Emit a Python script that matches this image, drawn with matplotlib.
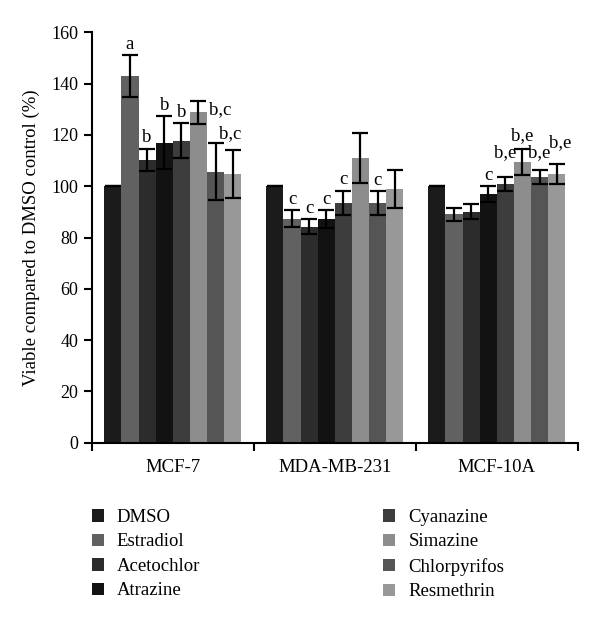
import numpy as np
import matplotlib
matplotlib.use("Agg")
import matplotlib.pyplot as plt

plt.rcParams.update({
    "font.family": "Liberation Serif",
    "font.size": 13.5,
    "axes.linewidth": 1.5,
    "xtick.major.width": 1.5,
    "ytick.major.width": 1.5,
    "xtick.labelsize": 13.5,
    "ytick.labelsize": 13,
})

# cell lines and treatments
cell_lines = ["MCF-7", "MDA-MB-231", "MCF-10A"]
treatments = ["DMSO", "Estradiol", "Acetochlor", "Atrazine",
              "Cyanazine", "Simazine", "Chlorpyrifos", "Resmethrin"]

# mean viability (%) per treatment, in cell line order
dmso         = [100.0, 100.0, 100.0]
estradiol    = [142.8, 87.3, 89.0]
acetochlor   = [110.4, 84.2, 90.1]
atrazine     = [117.0, 87.2, 96.9]
cyanazine    = [117.8, 93.6, 100.8]
simazine     = [128.8, 111.0, 109.6]
chlorpyrifos = [105.7, 93.4, 103.6]
resmethrin   = [104.8, 98.9, 104.8]

# error bars
dmso_err         = [0.0, 0.0, 0.0]
estradiol_err    = [8.2, 3.3, 2.6]
acetochlor_err   = [4.3, 3.0, 3.0]
atrazine_err     = [10.4, 3.4, 3.2]
cyanazine_err    = [6.7, 4.7, 2.8]
simazine_err     = [4.4, 9.7, 5.1]
chlorpyrifos_err = [11.1, 4.7, 2.9]
resmethrin_err   = [9.3, 7.3, 4.0]

# significance letters: (cell line index, treatment index, text)
sig_labels = [
    (0, 1, "a"), (0, 2, "b"), (0, 3, "b"), (0, 4, "b"),
    (0, 5, "b,c"), (0, 6, "b,c"),
    (1, 1, "c"), (1, 2, "c"), (1, 3, "c"), (1, 4, "c"), (1, 6, "c"),
    (2, 3, "c"), (2, 4, "b,e"), (2, 5, "b,e"), (2, 6, "b,e"), (2, 7, "b,e"),
]
# special placements (dx in category units, dy in %, horizontal align)
label_shift = {
    (0, 5): (0.062, -5.0, "left"),
    (0, 6): (0.02, 2.0, "left"),
    (2, 4): (0.0, 7.7, "center"),
    (2, 5): (0.0, 3.3, "center"),
    (2, 6): (0.0, 4.7, "center"),
    (2, 7): (0.02, 6.3, "center"),
}

means = [dmso, estradiol, acetochlor, atrazine,
         cyanazine, simazine, chlorpyrifos, resmethrin]
errs = [dmso_err, estradiol_err, acetochlor_err, atrazine_err,
        cyanazine_err, simazine_err, chlorpyrifos_err, resmethrin_err]
colors = ["#1b1b1b", "#616161", "#2c2c2c", "#121212",
          "#3d3d3d", "#8d8d8d", "#555555", "#989898"]

fig = plt.figure(figsize=(6.0, 6.21), dpi=100)
ax = fig.add_axes([0.153, 0.287, 0.81, 0.661])

x = np.arange(len(cell_lines))
group_w = 0.845
bar_w = group_w / len(treatments)

for i, name in enumerate(treatments):
    xpos = x - group_w / 2 + (i + 0.5) * bar_w
    ax.bar(xpos, means[i], width=bar_w, color=colors[i], label=name,
           yerr=errs[i], capsize=5.5,
           error_kw=dict(ecolor="black", elinewidth=1.6, capthick=1.6))

# letters above the error bars
for g, t, txt in sig_labels:
    xc = g - group_w / 2 + (t + 0.5) * bar_w
    top = means[t][g] + errs[t][g]
    dx, dy, ha = label_shift.get((g, t), (0.0, 2.5, "center"))
    ax.text(xc + dx, top + dy, txt, ha=ha, va="baseline", fontsize=13.5)

ax.set_xlim(-0.5, 2.5)
ax.set_ylim(0, 160)
ax.set_yticks(np.arange(0, 161, 20))
ax.set_xticks([-0.5, 0.5, 1.5, 2.5])
ax.set_xticklabels([])
ax.set_xticks(x, minor=True)
ax.set_xticklabels(cell_lines, minor=True)
ax.tick_params(axis="x", which="minor", length=0, pad=12)
ax.tick_params(axis="both", which="major", length=6, direction="out")
ax.spines["top"].set_visible(False)
ax.spines["right"].set_visible(False)
ax.set_ylabel("Viable compared to DMSO control (%)", labelpad=8)

fig.legend(loc="upper left", bbox_to_anchor=(0.153, 0.1804), ncol=2,
           frameon=False, borderpad=0, borderaxespad=0,
           handlelength=0.64, handleheight=0.64,
           handletextpad=0.7, columnspacing=9.76, labelspacing=0.4,
           fontsize=13.5)

plt.savefig("out.png", dpi=100)
